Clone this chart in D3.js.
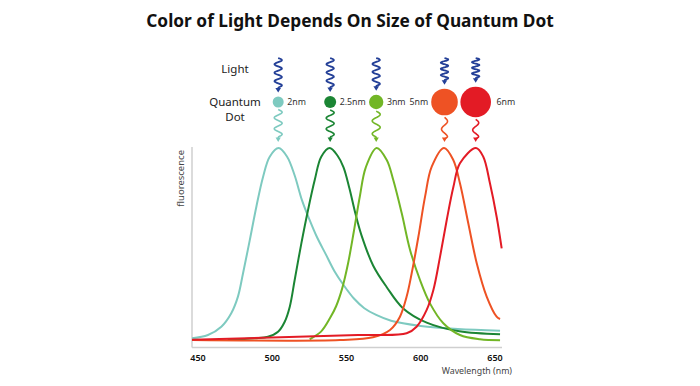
<!DOCTYPE html>
<html>
<head>
<meta charset="utf-8">
<script src="https://cdn.jsdelivr.net/npm/d3@7"></script>
<style>
  body { margin: 0; background: #fff; }
  svg { display: block; }
</style>
</head>
<body>
<svg id="chart" width="700" height="386"></svg>
<script>
// dot sizes, their emission peaks (nm) and colours
const sizes = ["2nm", "2.5nm", "3nm", "5nm", "6nm"];
const peaks = [504, 539, 570, 616, 637];
const colors = ["#7ecac0", "#1b8534", "#72b626", "#ee5224", "#e31b25"];
const xTicks = [450, 500, 550, 600, 650];

// emission spectra: [wavelength, relative fluorescence]
const spec2nm = [[446, 1.4], [456.7, 3.1], [465.7, 7.4], [472.4, 14.4], [476.9, 23], [480.3, 35], [484.8, 52], [489.3, 69.6], [493.8, 85], [498.3, 95.5], [504.3, 100], [510, 95.5], [515, 86], [520, 73], [525, 63], [530, 54], [536, 45], [542, 36], [548, 29], [555, 22], [562, 17], [570, 13.5], [580, 10.5], [600, 7.8], [625, 6.2], [653.4, 5.3]];
const spec25nm = [[470, 0.6], [488.2, 1.4], [497.1, 2.2], [503.9, 4.8], [508.4, 10], [511.8, 17.8], [515.1, 31.6], [519.6, 50.6], [524.1, 67.9], [528.6, 83.4], [533, 95.5], [538.7, 100], [544, 96], [548, 90], [552, 79], [556, 66], [560, 55], [568, 39], [577, 28], [588, 17], [604, 9.5], [626, 5], [653.4, 3.5]];
const spec3nm = [[525.2, 0.9], [533, 5], [539, 12], [543, 18], [547, 27], [551, 40], [555, 57], [559, 75], [563, 90], [570.3, 100], [577.1, 93.8], [581.5, 83.4], [587.2, 66.2], [592.8, 47.2], [599.5, 31.6], [606.2, 19.5], [615.2, 9.2], [626.4, 3.1], [639.9, 0.9], [653.4, 0.4]];
const spec5nm = [[446, 0.5], [545.6, 0.5], [567.8, 1.9], [579.3, 5.7], [586, 12.6], [590.5, 23], [593.9, 35.1], [598.4, 54], [602.9, 74.8], [607.4, 90.3], [615.7, 100], [621.9, 93.8], [626.4, 81.7], [632, 61], [637.7, 40.3], [644.4, 23], [651.1, 12.6], [653.4, 11.4]];
const spec6nm = [[446, 0.7], [557.7, 3.1], [590.5, 4], [597.2, 7.4], [604, 16.1], [608.5, 26.4], [613, 43.7], [617.5, 62.7], [622, 79.9], [626.4, 92.1], [637.2, 100], [642.1, 95.5], [646.6, 81.7], [651.1, 64.4], [654.5, 48]];
const spectra = [spec2nm, spec25nm, spec3nm, spec5nm, spec6nm];

// dot radius in px for each size (picture only)
const dotR = [5.5, 6, 7.2, 13.3, 15.3];

const svg = d3.select("#chart");
const font = "'Noto Sans', 'Open Sans', sans-serif";

const x = d3.scaleLinear().domain([450, 650]).range([198, 495]);
const y = d3.scaleLinear().domain([0, 100]).range([341, 148]);

svg.append("text")
    .attr("x", 350).attr("y", 27)
    .attr("text-anchor", "middle")
    .attr("font-family", font).attr("font-weight", "bold")
    .attr("font-size", 17.3).attr("fill", "#111")
    .text("Color of Light Depends On Size of Quantum Dot");

// axes (plain gray lines, no tick marks)
svg.append("line").attr("x1", 192).attr("x2", 192).attr("y1", 147).attr("y2", 347.5)
    .attr("stroke", "#cfcfcf").attr("stroke-width", 1.5);
svg.append("line").attr("x1", 192).attr("x2", 502).attr("y1", 347.5).attr("y2", 347.5)
    .attr("stroke", "#cfcfcf").attr("stroke-width", 1.5);

svg.append("g").selectAll("text").data(xTicks).join("text")
    .attr("x", d => x(d)).attr("y", 361)
    .attr("text-anchor", "middle")
    .attr("font-family", font).attr("font-weight", 600)
    .attr("font-size", 9).attr("fill", "#111")
    .text(d => d);

svg.append("text")
    .attr("x", 512).attr("y", 374)
    .attr("text-anchor", "end")
    .attr("font-family", font).attr("font-size", 8.8).attr("fill", "#444")
    .text("Wavelength (nm)");

svg.append("text")
    .attr("transform", "translate(184,150) rotate(-90)")
    .attr("text-anchor", "end")
    .attr("font-family", font).attr("font-size", 9.5).attr("fill", "#444")
    .text("fluorescence");

// spectra
const line = d3.line()
    .x(d => x(d[0])).y(d => y(d[1]))
    .curve(d3.curveCatmullRom.alpha(0.5));

svg.append("g").selectAll("path").data(spectra).join("path")
    .attr("d", line)
    .attr("fill", "none")
    .attr("stroke", (d, i) => colors[i])
    .attr("stroke-width", 2);

// row labels
const labels = [["Light", 73], ["Quantum", 106], ["Dot", 121]];
svg.append("g").selectAll("text").data(labels).join("text")
    .attr("x", 235).attr("y", d => d[1])
    .attr("text-anchor", "middle")
    .attr("font-family", font).attr("font-size", 11.5).attr("fill", "#222")
    .text(d => d[0]);

// wavy arrow pointing down, ending at yTip
function wavy(cx, y0, yTip, amp, periods) {
    const stem = 5, n = 60;
    const yEnd = yTip - stem;
    const pts = d3.range(n + 1).map(k => {
        const t = k / n;
        return [cx + amp * Math.sin(2 * Math.PI * periods * t), y0 + t * (yEnd - y0)];
    });
    pts.push([cx, yTip - 3]);
    return pts;
}

const dotY = 102;
const g = svg.append("g");
sizes.forEach((s, i) => {
    const cx = x(peaks[i]);
    const r = dotR[i];
    // incoming light
    const tipIn = dotY - r - 4;
    g.append("path")
        .attr("d", d3.line().curve(d3.curveBasis)(wavy(cx, 58, tipIn, 3.8, 3.5)))
        .attr("fill", "none").attr("stroke", "#233f97").attr("stroke-width", 1.8);
    g.append("path")
        .attr("d", `M${cx - 2.8},${tipIn - 4.5}L${cx + 2.8},${tipIn - 4.5}L${cx},${tipIn}Z`)
        .attr("fill", "#233f97");
    // emitted light
    const big = r > 10;
    const tipOut = 142;
    g.append("path")
        .attr("d", d3.line().curve(d3.curveBasis)(wavy(cx, dotY + r + 2, tipOut, big ? 3 : 4, big ? 1.25 : (i === 2 ? 2 : 2.5))))
        .attr("fill", "none").attr("stroke", colors[i]).attr("stroke-width", 1.6);
    g.append("path")
        .attr("d", `M${cx - 2.6},${tipOut - 4.5}L${cx + 2.6},${tipOut - 4.5}L${cx},${tipOut}Z`)
        .attr("fill", colors[i]);
    // dot
    g.append("circle")
        .attr("cx", cx).attr("cy", dotY).attr("r", r)
        .attr("fill", colors[i]);
    // size label
    const left = s === "5nm";
    g.append("text")
        .attr("x", left ? cx - r - 3 : cx + r + (s === "6nm" ? 5.5 : 3.5))
        .attr("y", dotY + 3.2)
        .attr("text-anchor", left ? "end" : "start")
        .attr("font-family", font).attr("font-size", 8.8).attr("fill", "#333")
        .text(s);
});
</script>
</body>
</html>
